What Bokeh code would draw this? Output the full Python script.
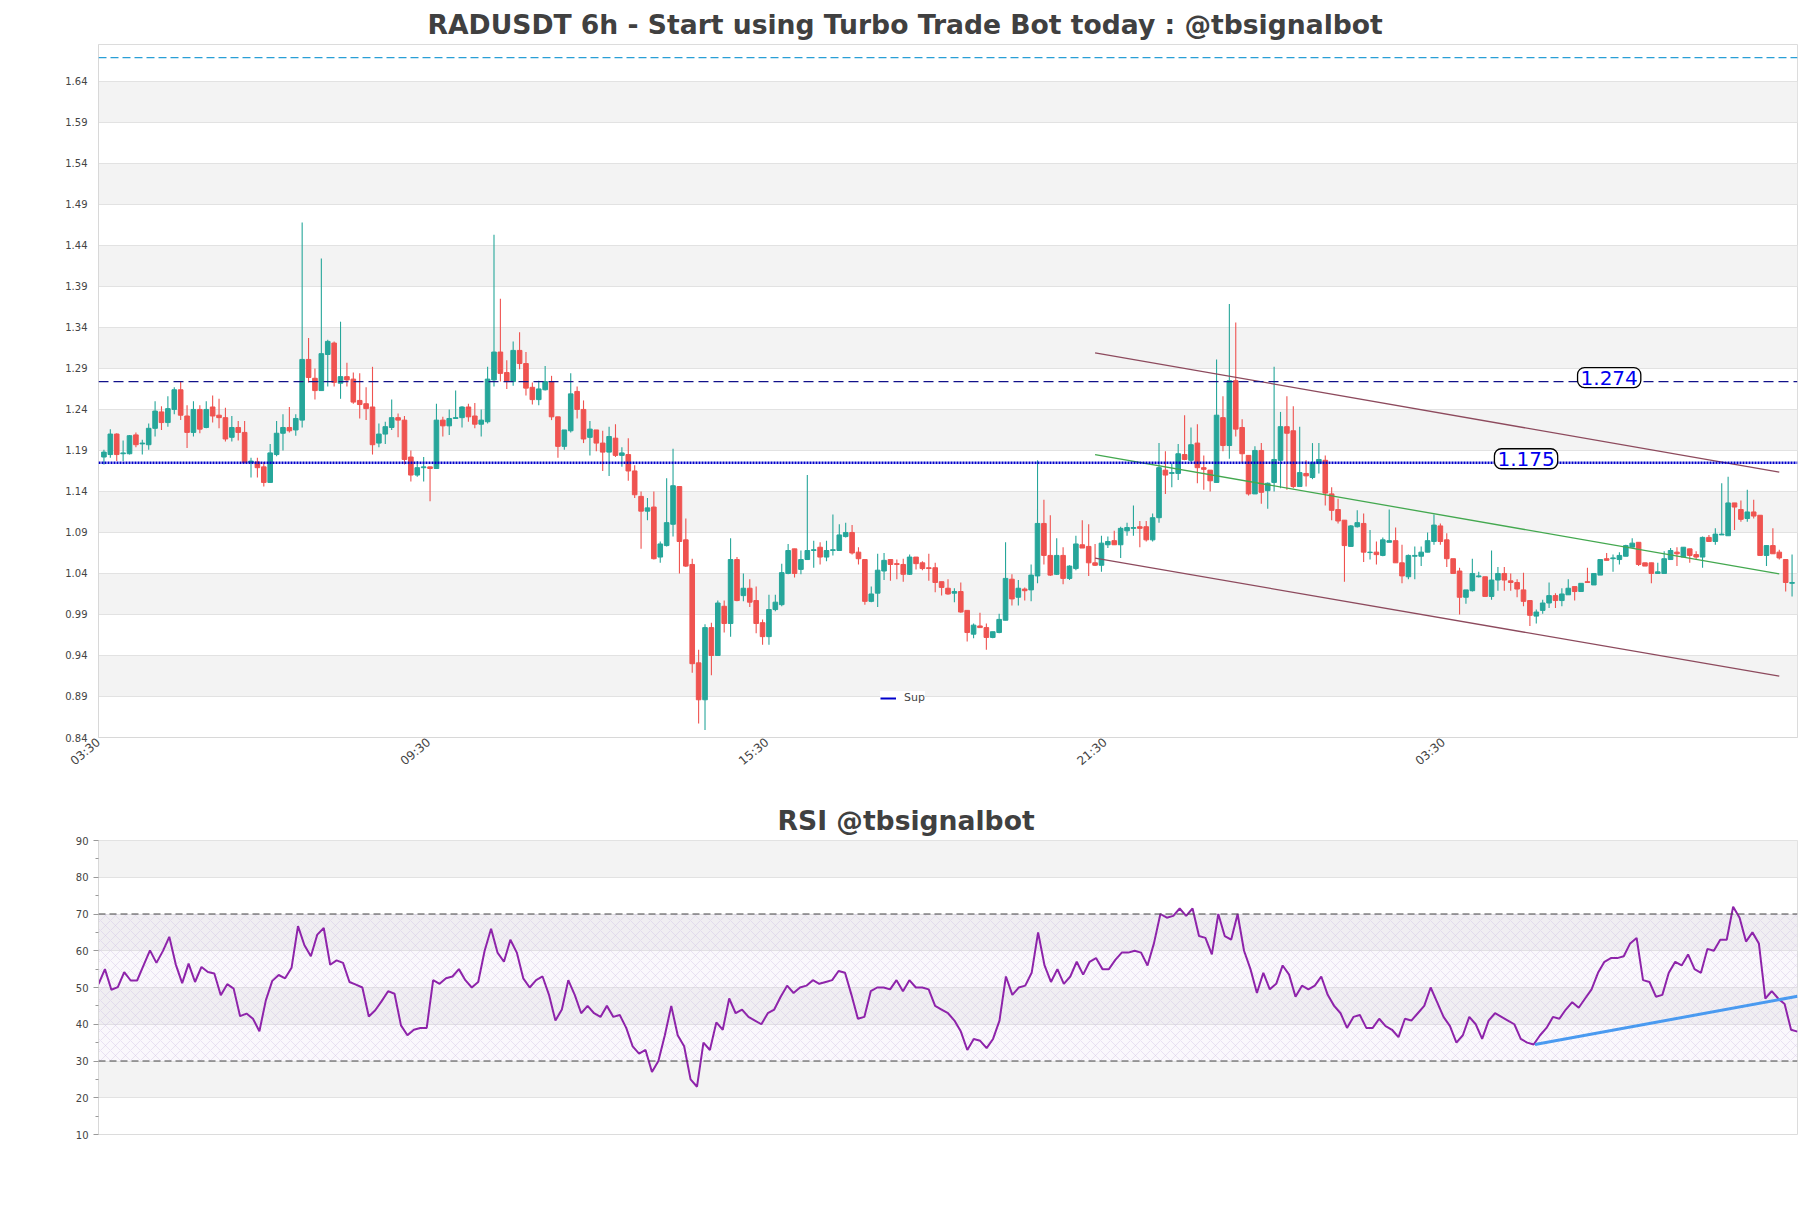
import math
from bokeh.plotting import figure
from bokeh.layouts import column
from bokeh.models import (ColumnDataSource, FixedTicker, Label, BoxAnnotation, Span,
                          Range1d, PrintfTickFormatter)
from bokeh.embed import file_html
from bokeh.resources import INLINE

# ---------------- data ----------------
ohlc = [
(1.182,1.191,1.173,1.188),(1.185,1.216,1.181,1.210),(1.210,1.211,1.177,1.185),(1.186,1.202,1.177,1.187),
(1.186,1.209,1.185,1.208),(1.209,1.212,1.194,1.197),(1.198,1.203,1.185,1.199),(1.197,1.223,1.191,1.217),
(1.217,1.250,1.207,1.238),(1.237,1.244,1.215,1.224),(1.224,1.256,1.219,1.241),(1.240,1.267,1.234,1.264),
(1.264,1.274,1.227,1.233),(1.232,1.245,1.193,1.212),(1.212,1.250,1.207,1.240),(1.240,1.245,1.211,1.216),
(1.218,1.250,1.217,1.240),(1.243,1.257,1.224,1.232),(1.233,1.253,1.217,1.230),(1.230,1.242,1.201,1.204),
(1.206,1.232,1.201,1.218),(1.218,1.226,1.202,1.212),(1.212,1.226,1.175,1.175),(1.175,1.181,1.157,1.177),
(1.176,1.181,1.157,1.169),(1.170,1.176,1.146,1.151),(1.151,1.198,1.151,1.187),(1.185,1.226,1.183,1.211),
(1.211,1.234,1.190,1.218),(1.218,1.243,1.212,1.214),(1.215,1.234,1.208,1.229),(1.227,1.468,1.218,1.301),
(1.301,1.327,1.273,1.279),(1.278,1.290,1.252,1.263),(1.263,1.424,1.263,1.308),(1.307,1.325,1.268,1.323),
(1.321,1.323,1.268,1.273),(1.272,1.347,1.253,1.280),(1.280,1.297,1.268,1.276),(1.277,1.285,1.247,1.249),
(1.251,1.284,1.229,1.246),(1.247,1.267,1.227,1.241),(1.243,1.292,1.185,1.197),(1.199,1.223,1.194,1.210),
(1.210,1.225,1.198,1.219),(1.218,1.252,1.215,1.230),(1.230,1.235,1.206,1.227),(1.227,1.232,1.173,1.179),
(1.182,1.190,1.152,1.160),(1.160,1.177,1.158,1.169),(1.169,1.182,1.152,1.170),(1.170,1.170,1.128,1.168),
(1.168,1.247,1.168,1.227),(1.227,1.231,1.207,1.220),(1.220,1.240,1.209,1.229),(1.229,1.263,1.229,1.230),
(1.230,1.244,1.218,1.243),(1.243,1.247,1.225,1.231),(1.232,1.248,1.217,1.222),(1.222,1.240,1.207,1.227),
(1.225,1.292,1.223,1.277),(1.276,1.453,1.268,1.310),(1.310,1.375,1.274,1.284),(1.285,1.300,1.265,1.274),
(1.274,1.323,1.269,1.312),(1.312,1.334,1.289,1.296),(1.296,1.310,1.257,1.266),(1.267,1.273,1.246,1.252),
(1.252,1.275,1.245,1.265),(1.264,1.293,1.263,1.274),(1.274,1.281,1.227,1.231),(1.231,1.231,1.181,1.195),
(1.195,1.215,1.191,1.215),(1.214,1.284,1.212,1.259),(1.262,1.268,1.229,1.240),(1.240,1.251,1.199,1.204),
(1.206,1.226,1.184,1.216),(1.215,1.215,1.189,1.199),(1.199,1.214,1.165,1.188),(1.188,1.219,1.159,1.207),
(1.205,1.222,1.182,1.184),(1.184,1.194,1.170,1.187),(1.185,1.205,1.153,1.165),(1.165,1.172,1.132,1.136),
(1.134,1.140,1.070,1.116),(1.116,1.132,1.105,1.120),(1.121,1.140,1.057,1.058),(1.060,1.079,1.053,1.076),
(1.074,1.156,1.073,1.102),(1.100,1.192,1.085,1.147),(1.146,1.146,1.040,1.079),(1.081,1.107,1.048,1.049),
(1.051,1.058,0.919,0.930),(0.931,0.947,0.857,0.886),(0.886,0.978,0.849,0.974),(0.974,0.980,0.916,0.940),
(0.940,1.007,0.940,1.004),(1.000,1.007,0.968,0.979),(0.979,1.083,0.963,1.057),(1.057,1.060,1.006,1.007),
(1.013,1.040,1.006,1.022),(1.022,1.033,0.999,1.005),(1.007,1.024,0.967,0.979),(0.980,0.984,0.953,0.963),
(0.963,1.014,0.953,0.996),(0.996,1.014,0.994,1.005),(1.002,1.052,1.000,1.041),(1.040,1.076,1.039,1.068),
(1.070,1.070,1.035,1.040),(1.045,1.068,1.039,1.057),(1.057,1.160,1.057,1.068),(1.068,1.080,1.047,1.069),
(1.072,1.078,1.051,1.060),(1.060,1.080,1.055,1.068),(1.068,1.112,1.062,1.069),(1.068,1.100,1.068,1.087),
(1.085,1.102,1.084,1.090),(1.090,1.099,1.063,1.065),(1.066,1.072,1.051,1.058),(1.057,1.057,1.002,1.006),
(1.006,1.024,1.005,1.015),(1.016,1.064,0.999,1.044),(1.043,1.065,1.032,1.056),(1.057,1.057,1.031,1.051),
(1.052,1.057,1.033,1.051),(1.051,1.058,1.030,1.039),(1.039,1.063,1.038,1.060),(1.060,1.060,1.045,1.052),
(1.053,1.055,1.044,1.046),(1.047,1.064,1.031,1.046),(1.047,1.053,1.017,1.029),(1.030,1.030,1.013,1.023),
(1.022,1.033,1.014,1.015),(1.016,1.022,1.005,1.018),(1.018,1.029,0.992,0.993),(0.995,0.995,0.957,0.968),
(0.966,0.979,0.961,0.977),(0.976,0.992,0.974,0.974),(0.974,0.979,0.947,0.962),(0.962,0.969,0.961,0.969),
(0.968,0.991,0.967,0.984),(0.983,1.078,0.983,1.034),(1.033,1.039,1.001,1.009),(1.011,1.032,1.001,1.022),
(1.021,1.023,1.007,1.019),(1.020,1.051,1.006,1.038),(1.037,1.178,1.028,1.101),(1.101,1.130,1.051,1.062),
(1.062,1.111,1.037,1.038),(1.039,1.083,1.038,1.062),(1.062,1.072,1.027,1.034),(1.034,1.050,1.032,1.049),
(1.046,1.086,1.044,1.076),(1.075,1.105,1.071,1.071),(1.073,1.100,1.037,1.053),(1.053,1.076,1.049,1.050),
(1.050,1.086,1.042,1.077),(1.075,1.085,1.071,1.079),(1.080,1.092,1.075,1.075),(1.075,1.097,1.059,1.095),
(1.092,1.102,1.086,1.096),(1.095,1.123,1.086,1.096),(1.097,1.104,1.072,1.095),(1.097,1.104,1.079,1.081),
(1.081,1.113,1.079,1.108),(1.108,1.199,1.102,1.169),(1.166,1.189,1.137,1.160),(1.162,1.174,1.145,1.163),
(1.162,1.198,1.154,1.186),(1.185,1.233,1.178,1.179),(1.178,1.218,1.176,1.197),(1.199,1.222,1.150,1.169),
(1.169,1.184,1.142,1.167),(1.166,1.166,1.140,1.153),(1.151,1.301,1.151,1.233),(1.230,1.256,1.189,1.196),
(1.196,1.3685,1.180,1.275),(1.275,1.346,1.207,1.216),(1.218,1.228,1.175,1.186),(1.184,1.184,1.135,1.137),
(1.137,1.195,1.137,1.190),(1.190,1.199,1.125,1.139),(1.141,1.151,1.119,1.150),(1.151,1.292,1.140,1.179),
(1.178,1.237,1.144,1.219),(1.219,1.256,1.142,1.211),(1.214,1.244,1.144,1.146),(1.146,1.219,1.146,1.163),
(1.162,1.178,1.146,1.159),(1.157,1.199,1.155,1.175),(1.174,1.199,1.162,1.179),(1.178,1.184,1.123,1.138),
(1.137,1.145,1.105,1.117),(1.118,1.131,1.101,1.104),(1.105,1.105,1.030,1.074),(1.073,1.099,1.073,1.098),
(1.097,1.117,1.096,1.102),(1.101,1.113,1.054,1.066),(1.0655,1.093,1.057,1.066),(1.066,1.079,1.051,1.063),
(1.062,1.084,1.061,1.081),(1.078,1.118,1.078,1.080),(1.080,1.096,1.053,1.053),(1.053,1.075,1.028,1.037),
(1.036,1.063,1.033,1.062),(1.061,1.073,1.033,1.062),(1.061,1.073,1.049,1.066),(1.066,1.090,1.066,1.080),
(1.079,1.112,1.075,1.099),(1.098,1.101,1.075,1.079),(1.081,1.089,1.048,1.058),(1.058,1.058,1.040,1.040),
(1.043,1.047,0.990,1.011),(1.011,1.020,1.003,1.020),(1.019,1.058,1.018,1.040),(1.036,1.042,1.035,1.037),
(1.036,1.036,1.012,1.012),(1.012,1.068,1.008,1.032),(1.032,1.048,1.019,1.040),(1.040,1.048,1.019,1.032),
(1.031,1.040,1.019,1.029),(1.029,1.033,1.011,1.021),(1.020,1.041,1.000,1.006),(1.007,1.007,0.976,0.989),
(0.988,0.996,0.979,0.993),(0.995,1.008,0.991,1.004),(1.004,1.029,0.998,1.013),(1.013,1.016,0.998,1.007),
(1.007,1.022,1.000,1.015),(1.014,1.033,1.014,1.022),(1.024,1.024,1.007,1.018),(1.018,1.028,1.018,1.028),
(1.030,1.047,1.029,1.029),(1.026,1.040,1.026,1.040),(1.038,1.057,1.038,1.057),(1.058,1.065,1.056,1.056),
(1.058,1.063,1.042,1.059),(1.057,1.066,1.051,1.062),(1.061,1.075,1.061,1.074),(1.072,1.083,1.072,1.077),
(1.078,1.078,1.049,1.051),(1.053,1.053,1.049,1.049),(1.053,1.053,1.028,1.040),(1.040,1.053,1.040,1.042),
(1.040,1.067,1.040,1.058),(1.057,1.071,1.057,1.068),(1.066,1.072,1.049,1.064),(1.060,1.072,1.060,1.072),
(1.070,1.070,1.053,1.062),(1.063,1.067,1.057,1.060),(1.060,1.085,1.047,1.084),(1.084,1.087,1.079,1.079),
(1.079,1.095,1.075,1.088),(1.087,1.150,1.087,1.088),(1.086,1.158,1.086,1.126),(1.126,1.126,1.093,1.121),
(1.118,1.129,1.103,1.106),(1.107,1.142,1.103,1.115),(1.115,1.130,1.107,1.110),(1.111,1.111,1.062,1.062),
(1.062,1.074,1.049,1.074),(1.074,1.095,1.064,1.064),(1.066,1.069,1.057,1.059),(1.057,1.057,1.018,1.029),
(1.028,1.063,1.012,1.029),
]
opens = [c[0] for c in ohlc]
highs = [c[1] for c in ohlc]
lows = [c[2] for c in ohlc]
closes = [c[3] for c in ohlc]

rsi = [
    50.9, 55.0, 49.4, 50.1, 54.2, 51.9, 51.9, 56.0, 60.1, 56.7, 59.9, 63.8, 56.3, 51.2, 56.5, 51.5,
    55.6, 54.2, 53.8, 47.9, 50.9, 49.7, 42.2, 42.9, 41.5, 38.1, 46.5, 51.8, 53.4, 52.5, 55.4, 66.7,
    61.5, 58.5, 64.4, 66.2, 56.2, 57.4, 56.7, 51.5, 50.8, 50.0, 42.1, 43.8, 46.3, 49.0, 48.3, 39.7,
    37, 38.5, 39, 39, 52, 51, 52.5, 53, 55, 52, 50, 51.5, 60, 66, 59.5, 57, 63, 59.5, 52.5, 50,
    52, 53, 48, 41, 44, 52, 48, 43, 45, 43, 42, 45, 42, 42.5, 39, 34, 32, 33, 27, 30, 37, 45, 37, 34, 25, 23,
    35, 33, 40.5, 38.5, 47, 43, 44, 42, 41, 40, 43, 44, 47.5, 50.5, 48.5, 50, 50.5, 52, 51, 51.5,
    52, 54.5, 54, 48, 41.5, 42, 49, 50, 50, 49.5, 52, 49, 52, 50, 50, 49.5, 45, 44, 43, 41, 38, 33,
    36, 35.5, 33.5, 36, 41, 53, 48, 50, 50.5, 54, 65,
    56, 51.5, 55, 51, 53, 57, 53.5, 57, 58, 55, 55, 57.5, 59.5, 59.5, 60, 59.5, 56, 62, 70, 69,
    69.5, 71.5, 69.5, 71.5, 64, 63.5, 59, 70, 64, 63, 70,
    60, 55, 48.5, 54, 49.5, 51, 56, 53.5, 47.5, 50.5, 49.5, 50.5, 53, 48, 45, 43, 39, 42, 42.5, 39,
    39, 41.5, 39.5, 38.5, 36.5, 41.5, 41, 43, 45, 50,
    46, 42, 39.5, 35, 37, 42, 40, 36, 41, 43, 42, 41, 40, 36, 35, 34.5, 37, 39, 42, 41.5, 44, 46, 44.5,
    47, 49.5, 54, 57, 58, 58, 58.5, 62, 63.5, 52, 51.5, 47.5, 48, 54, 57, 56, 59, 55, 54, 60.5, 60,
    63, 63, 72, 69, 62.5, 65, 62, 47, 49, 47, 45.5, 38.5, 38,
]

x_tick_pos = [-0.84, 50.8, 103.7, 156.6, 209.5]
x_tick_labels = ["03:30", "09:30", "15:30", "21:30", "03:30"]
y_ticks = [0.84, 0.89, 0.94, 0.99, 1.04, 1.09, 1.14, 1.19, 1.24, 1.29, 1.34, 1.39, 1.44, 1.49, 1.54, 1.59, 1.64]
rsi_ticks = [10, 20, 30, 40, 50, 60, 70, 80, 90]
rsi_minor = [15, 25, 35, 45, 55, 65, 75, 85]

top_resistance = 1.669
resistance = 1.274
support = 1.175
channel_x = [155, 262]
channel_upper = [1.309, 1.1636]
channel_lower = [1.0587, 0.9148]
channel_mid = [1.1848, 1.0396]
rsi_trend_x = [223.2, 264]
rsi_trend_y = [34.5, 47.6]
rsi_high, rsi_low = 70, 30

FONT = "DejaVu Sans"
GREEN = "#26a69a"
RED = "#ef5350"

n = len(ohlc)
xs = list(range(n))
cols = [GREEN if c >= o else RED for o, c in zip(opens, closes)]
src = ColumnDataSource(dict(x=xs, o=opens, h=highs, l=lows, c=closes,
                            top=[max(o, c) for o, c in zip(opens, closes)],
                            bot=[min(o, c) for o, c in zip(opens, closes)],
                            col=cols))


def style_title(fig, text, offset):
    fig.title.text = text
    fig.title.text_font = FONT
    fig.title.text_font_size = "26.6px"
    fig.title.text_font_style = "bold"
    fig.title.text_color = "#404040"
    fig.title.align = "left"
    fig.title.offset = offset


# ---------------- main chart ----------------
p = figure(width=1811, height=790, x_range=Range1d(-0.85, 264.85), y_range=Range1d(0.84, 1.685),
           output_backend="svg", toolbar_location=None,
           min_border_left=98, min_border_right=14, min_border_top=44, min_border_bottom=53)
style_title(p, "RADUSDT 6h - Start using Turbo Trade Bot today : @tbsignalbot", 329)
p.background_fill_color = "white"
p.border_fill_color = "white"
p.outline_line_color = "#dcdcdc"

p.xgrid.visible = False
p.ygrid.grid_line_color = "#e2e2e2"
p.ygrid.band_fill_color = "#f3f3f3"
p.ygrid.band_fill_alpha = 1.0

p.yaxis.ticker = FixedTicker(ticks=y_ticks)
p.yaxis.formatter = PrintfTickFormatter(format="%.2f")
p.xaxis.ticker = FixedTicker(ticks=x_tick_pos)
p.xaxis.major_label_overrides = {t: l for t, l in zip(x_tick_pos, x_tick_labels)}
p.xaxis.major_label_orientation = math.radians(40)
p.xaxis.major_label_standoff = -3
for ax in (p.xaxis, p.yaxis):
    ax.axis_line_color = "#d8d8d8"
    ax.major_tick_line_color = None
    ax.minor_tick_line_color = None
    ax.major_label_text_font = FONT
    ax.major_label_text_color = "#444444"
p.yaxis.major_label_text_font_size = "10px"
p.xaxis.major_label_text_font_size = "12px"

p.segment(x0="x", y0="h", x1="x", y1="l", source=src, color="col", line_width=1.1)
p.vbar(x="x", width=0.72, top="top", bottom="bot", source=src, fill_color="col", line_color="col")

p.add_layout(Span(location=top_resistance, dimension="width", line_color="#2a9fd6",
                  line_dash="8 4", line_width=1.3))
p.add_layout(Span(location=resistance, dimension="width", line_color="#12128a",
                  line_dash="10 5", line_width=1.3))
p.add_layout(Span(location=support, dimension="width", line_color="#0000cc",
                  line_dash="2 1", line_width=2.5))

p.line(channel_x, channel_upper, line_color="#8d4a5d", line_width=1.3)
p.line(channel_x, channel_lower, line_color="#8d4a5d", line_width=1.3)
p.line(channel_x, channel_mid, line_color="#43a84f", line_width=1.3)

p.line([float("nan")], [float("nan")], line_color="#0000cc", line_width=2, legend_label="Sup")
p.legend.location = (782, 33)
p.legend.background_fill_color = "white"
p.legend.background_fill_alpha = 1.0
p.legend.border_line_color = None
p.legend.label_text_font = FONT
p.legend.label_text_font_size = "11px"
p.legend.glyph_width = 16
p.legend.glyph_height = 10
p.legend.label_height = 10
p.legend.label_standoff = 8
p.legend.padding = 5
p.legend.margin = 0

for val, xpos in ((resistance, 235.4), (support, 222.4)):
    p.add_layout(Label(x=xpos, y=val, y_offset=4, text=f"{val:.3f}", text_align="center",
                       text_baseline="middle", text_color="#0000ee", text_font=FONT,
                       text_font_size="20px", background_fill_color="white",
                       border_line_color="black", border_line_width=1.3,
                       padding=3, border_radius=7))

# ---------------- RSI chart ----------------
r = figure(width=1811, height=418, x_range=Range1d(0, len(rsi) - 1), y_range=Range1d(10, 90),
           output_backend="svg", toolbar_location=None,
           min_border_left=98, min_border_right=14, min_border_top=50, min_border_bottom=74)
style_title(r, "RSI @tbsignalbot", 679)
r.outline_line_color = "#dcdcdc"
r.xgrid.visible = False
r.xaxis.visible = False
r.ygrid.grid_line_color = "#e2e2e2"
r.ygrid.band_fill_color = "#f3f3f3"
r.ygrid.band_fill_alpha = 1.0
r.yaxis.ticker = FixedTicker(ticks=rsi_ticks, minor_ticks=rsi_minor)
r.yaxis.axis_line_color = "#d8d8d8"
r.yaxis.major_tick_line_color = "#999999"
r.yaxis.minor_tick_line_color = "#999999"
r.yaxis.major_tick_out = 5
r.yaxis.major_tick_in = 0
r.yaxis.minor_tick_out = 3
r.yaxis.minor_tick_in = 0
r.yaxis.major_label_text_font = FONT
r.yaxis.major_label_text_font_size = "10px"
r.yaxis.major_label_text_color = "#444444"

r.add_layout(BoxAnnotation(bottom=rsi_low, top=rsi_high, fill_color="#e8def2", fill_alpha=0.2,
                           hatch_pattern="x", hatch_color="#cbbbe0", hatch_alpha=0.6,
                           hatch_scale=10, hatch_weight=0.6, line_color=None, level="underlay"))
for lv in (rsi_high, rsi_low):
    r.add_layout(Span(location=lv, dimension="width", line_color="#444444", line_dash="7 4", line_width=1.2))

rsi_x = list(range(len(rsi)))
r.line(rsi_x, rsi, line_color="#8e24aa", line_width=2)
r.line(rsi_trend_x, rsi_trend_y, line_color="#4a9af0", line_width=3)

layout = column(p, r, spacing=0)
open("out.html", "w").write(file_html(layout, INLINE))
